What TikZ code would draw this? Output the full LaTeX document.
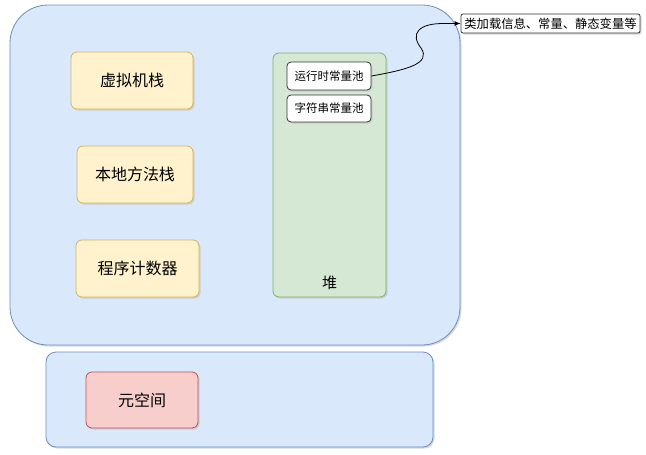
\documentclass[tikz,border=0pt]{standalone}
\usepackage{fontspec}
\newfontfamily\cjk{Noto Sans CJK SC}
\usetikzlibrary{shadows,arrows.meta}
\definecolor{bfill}{HTML}{DAE8FC}\definecolor{bline}{HTML}{6C8EBF}
\definecolor{yfill}{HTML}{FFF2CC}\definecolor{yline}{HTML}{D6B656}
\definecolor{gfill}{HTML}{D5E8D4}\definecolor{gline}{HTML}{82B366}
\definecolor{rfill}{HTML}{F8CECC}\definecolor{rline}{HTML}{B85450}
\tikzset{
  base/.style={rectangle, rounded corners=6pt, line width=0.8pt, inner sep=0pt,
    drop shadow={shadow xshift=1.5pt, shadow yshift=-1.5pt, fill=black!25, opacity=0.6},
    font=\cjk},
  bluebox/.style={base, fill=bfill, draw=bline},
  yellowbox/.style={base, fill=yfill, draw=yline, font=\cjk\fontsize{16}{18}\selectfont},
  greenbox/.style={base, fill=gfill, draw=gline},
  redbox/.style={base, fill=rfill, draw=rline, font=\cjk\fontsize{16}{18}\selectfont},
  whitebox/.style={base, fill=white, draw=black!80, rounded corners=4pt, font=\cjk\fontsize{11.5}{13}\selectfont},
}
\begin{document}
\begin{tikzpicture}[x=1pt,y=-1pt]
\useasboundingbox (0,0) rectangle (646,455);
% big blue
\node[bluebox, rounded corners=38pt, minimum width=450pt, minimum height=340pt] (jvm) at (235,175) {};
\node[bluebox, rounded corners=10pt, minimum width=387pt, minimum height=95pt] (meta) at (239.5,399.5) {};
% yellow
\node[yellowbox, minimum width=122pt, minimum height=57pt] (vms) at (132,80.5) {虚拟机栈};
\node[yellowbox, minimum width=116pt, minimum height=57pt] (nms) at (135,174.5) {本地方法栈};
\node[yellowbox, minimum width=123pt, minimum height=57pt] (pc) at (137.5,268.5) {程序计数器};
% heap
\node[greenbox, minimum width=113pt, minimum height=244pt] (heap) at (329.5,175) {};
\node[font=\cjk\fontsize{15}{17}\selectfont] (heaplbl) at (329.5,283) {堆};
\node[whitebox, minimum width=84pt, minimum height=28pt] (rcp) at (329,76) {运行时常量池};
\node[whitebox, minimum width=84pt, minimum height=27pt] (scp) at (329,108.5) {字符串常量池};
% red
\node[redbox, minimum width=112pt, minimum height=56pt] (ms) at (142,400) {元空间};
% annotation
\node[whitebox, rounded corners=2pt, minimum width=179pt, minimum height=19pt, font=\cjk\fontsize{12.3}{14}\selectfont] (ann) at (550.5,23.5) {类加载信息、常量、静态变量等};
\draw[line width=0.8pt, -{Latex[length=6pt,width=5pt]}]
  (rcp.east) .. controls (405,70) and (432,64) .. (421,48)
  .. controls (410,34) and (418,23) .. (445,23.5) -- (ann.west);
\end{tikzpicture}
\end{document}
